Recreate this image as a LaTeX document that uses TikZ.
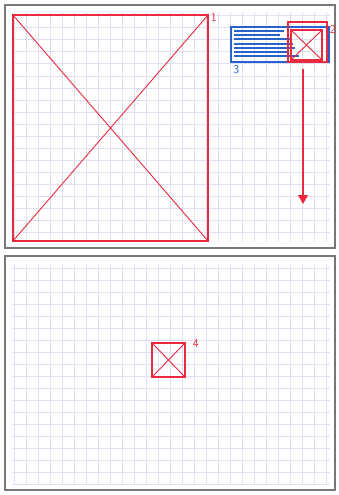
\documentclass[tikz,border=0pt]{standalone}
\usetikzlibrary{arrows.meta, positioning}
\definecolor{penred}{RGB}{234,40,62}
\definecolor{penblue}{RGB}{40,98,206}
\definecolor{gridlav}{RGB}{222,224,242}
\definecolor{edgegray}{RGB}{120,120,120}

\begin{document}
\begin{tikzpicture}[x=1pt, y=-1pt,
    panel/.style={draw=edgegray, line width=1.8pt},
    gridln/.style={gridlav, line width=1pt},
    redbox/.style={draw=penred, line width=1.1pt, inner sep=0pt},
    bluebox/.style={draw=penblue, line width=1.5pt, inner sep=0pt},
    cross/.style={penred, line width=0.9pt},
    hatch/.style={penblue, line width=1.3pt},
    tag/.style={font=\large\sffamily, inner sep=1pt},
    arr/.style={-{Triangle[length=9pt, width=10pt]}, penred, line width=1.3pt}
  ]
  \useasboundingbox (0,0) rectangle (339,495);
  % the two sheets
  \draw[panel] (5,5) rectangle (335,248);
  \draw[panel] (5,256) rectangle (335,490);
  % squared paper
  \foreach \x in {14,26,...,326} {
    \draw[gridln] (\x,12) -- (\x,242);
    \draw[gridln] (\x,264) -- (\x,484);
  }
  \foreach \y in {16,28,...,240}
    \draw[gridln] (12,\y) -- (330,\y);
  \foreach \y in {268,280,...,484}
    \draw[gridln] (12,\y) -- (330,\y);

  % sketched boxes
  \node[redbox, minimum width=195pt, minimum height=226pt] (mainframe) at (110.5,128) {};
  \draw[cross] (mainframe.north west) -- (mainframe.south east);
  \draw[cross] (mainframe.north east) -- (mainframe.south west);
  \node[tag, penred, right=1pt of mainframe.north east, yshift=-3pt] (tagone) {1};

  \node[bluebox, minimum width=98pt, minimum height=35pt] (textstrip) at (280,44.5) {};
  \foreach \y/\e in {31/284, 35/280, 39/290, 44/293, 48/295, 52/288, 56/299}
    \draw[hatch] (234,\y) -- (\e,\y);
  \node[tag, penblue, below=1pt of textstrip.south west, xshift=6pt] (tagthree) {3};

  \node[redbox, minimum width=39pt, minimum height=40pt] (zoombox) at (307.5,42) {};
  \node[redbox, minimum width=31pt, minimum height=30pt] (crossbox) at (306.5,45) {};
  \draw[cross] (crossbox.north west) -- (crossbox.south east);
  \draw[cross] (crossbox.north east) -- (crossbox.south west);
  \node[tag, penred, right=1pt of zoombox.north east, yshift=-8pt] (tagtwo) {2};

  % move it down
  \coordinate (drop) at (303,204);
  \draw[arr] ([xshift=-4.5pt, yshift=-6pt]zoombox.south) -- (drop);

  \node[redbox, minimum width=33pt, minimum height=34pt] (smallbox) at (168.5,360) {};
  \draw[cross] (smallbox.north west) -- (smallbox.south east);
  \draw[cross] (smallbox.north east) -- (smallbox.south west);
  \node[tag, penred, right=6pt of smallbox.north east, yshift=-1pt] (tagfour) {4};
\end{tikzpicture}
\end{document}
